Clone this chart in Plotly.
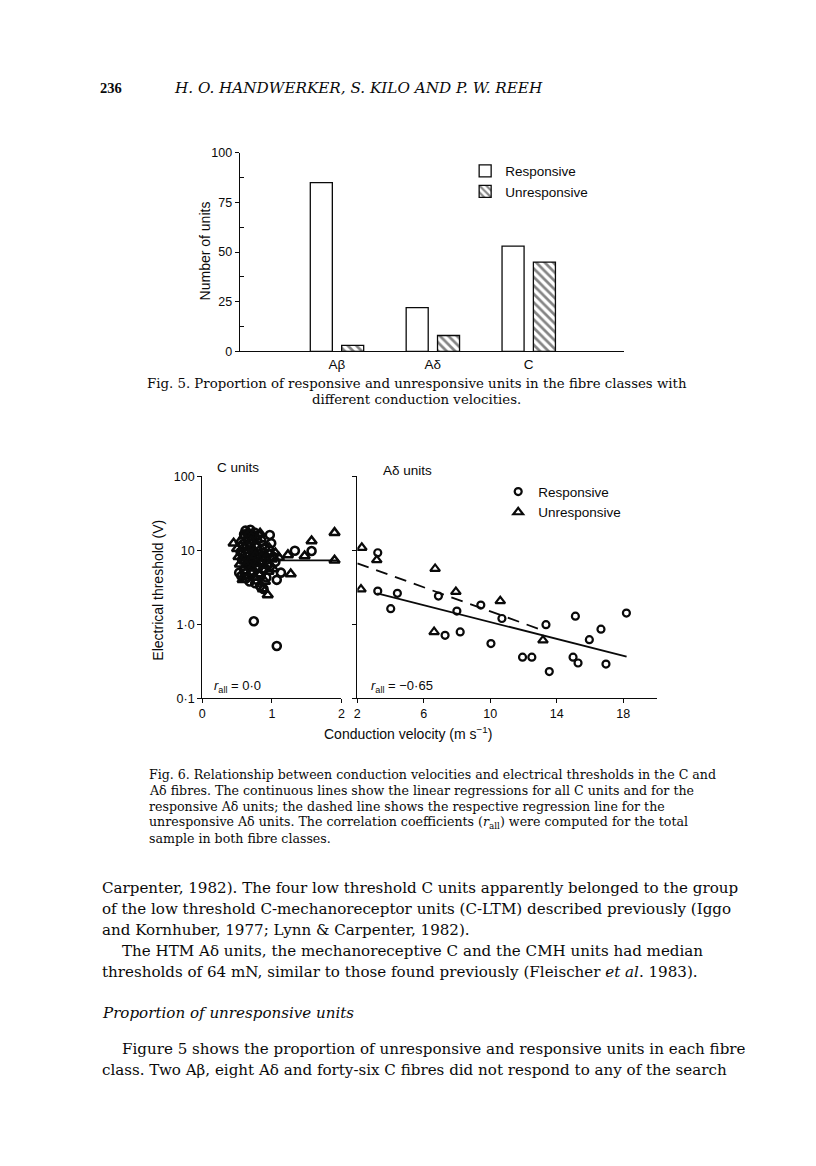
import plotly.graph_objects as go

# ---- Fig. 5 data ----
fibre_classes = ["Aβ", "Aδ", "C"]
responsive_units = [85, 22, 53]
unresponsive_units = [3, 8, 45]

# ---- Fig. 6 data: C units (conduction velocity m/s, threshold V) ----
c_resp_cv = [0.62, 0.69, 0.75, 0.80, 0.66, 0.72, 0.85, 0.58, 0.64, 0.70, 0.78, 0.90, 0.55, 0.62,
             0.68, 0.74, 0.82, 0.95, 1.02, 0.57, 0.65, 0.71, 0.77, 0.86, 0.93, 1.05, 0.53, 0.60,
             0.67, 0.73, 0.80, 0.88, 0.97, 0.56, 0.63, 0.70, 0.78, 0.84, 0.92, 0.76, 0.68, 0.83,
             0.60, 0.87, 0.99,
             1.57, 1.33, 0.97, 1.07, 1.13, 0.88, 0.74, 1.07]
c_resp_thr = [18.5, 19.0, 17.5, 16.0, 15.0, 14.0, 13.5, 12.0, 11.5, 12.5, 11.0, 10.5, 9.5, 9.0,
              8.5, 9.5, 8.8, 9.0, 8.2, 7.5, 7.0, 6.8, 7.8, 7.2, 6.5, 7.0, 5.0, 5.5,
              6.0, 5.2, 5.8, 5.5, 6.0, 4.5, 4.2, 4.8, 4.0, 4.6, 4.3, 3.6, 3.8, 3.3,
              16.5, 11.8, 12.5,
              9.8, 9.9, 16.2, 4.0, 5.0, 3.0, 1.1, 0.51]
c_unresp_cv = [0.50, 0.55, 0.60, 0.67, 0.73, 0.79, 0.83, 0.59, 0.66, 0.72, 0.81, 0.88, 0.96, 1.05,
               0.52, 0.61, 0.69, 0.76, 0.85, 0.91, 1.00, 1.10, 0.54, 0.63, 0.71, 0.79, 0.89, 0.58,
               0.66, 0.74, 0.81, 0.90, 0.87, 0.62, 0.95, 1.02, 0.70,
               0.45, 1.90, 1.90, 1.57, 1.47, 1.23, 1.27, 0.94]
c_unresp_thr = [10.5, 13.5, 15.5, 17.0, 16.5, 14.0, 17.0, 11.0, 10.0, 10.8, 9.8, 9.3, 10.8, 9.2,
                8.2, 8.0, 7.5, 8.5, 8.0, 7.8, 7.6, 8.0, 6.5, 6.3, 5.8, 6.6, 6.2, 4.0,
                4.5, 4.3, 4.8, 3.8, 3.0, 5.0, 5.2, 5.6, 13.5,
                12.5, 17.4, 7.35, 13.4, 8.4, 8.7, 4.8, 2.5]
c_fit_cv = [0.52, 1.96]
c_fit_thr = [7.35, 7.35]

# ---- Fig. 6 data: A-delta units ----
ad_resp_cv = [3.23, 3.23, 4.41, 4.01, 6.88, 7.99, 9.43, 10.70, 7.28, 8.19, 10.04, 11.94, 12.50,
              13.35, 13.55, 15.12, 14.98, 15.28, 15.96, 16.66, 16.96, 18.19]
ad_resp_thr = [9.3, 2.82, 2.63, 1.63, 2.41, 1.51, 1.82, 1.20, 0.71, 0.79, 0.55, 0.36, 0.36,
               0.99, 0.23, 1.29, 0.36, 0.30, 0.62, 0.86, 0.29, 1.42]
ad_unresp_cv = [2.27, 3.17, 2.22, 6.68, 7.93, 10.6, 6.62, 13.17]
ad_unresp_thr = [10.9, 7.4, 2.98, 5.66, 2.76, 2.07, 0.79, 0.61]
ad_resp_fit_cv = [3.2, 18.2]
ad_resp_fit_thr = [2.63, 0.365]
ad_unresp_fit_cv = [2.0, 13.0]
ad_unresp_fit_thr = [6.7, 0.855]

thr_tickvals = [0.1, 1, 10, 100]
thr_ticktext = ["0·1", "1·0", "10", "100"]
units_tickvals = [0, 25, 50, 75, 100]
c_cv_ticks = [0, 1, 2]
ad_cv_ticks = [2, 6, 10, 14, 18]

# page pixel -> paper coords; the page is framed slightly scaled/offset in the final shot,
# so compensate with the measured factors
W, H, OFF = 800, 1150, 8
SX, OX = 0.99, 3.5
SY, OY = 0.987, 6.7
def px(x): return ((x - OX) / SX - OFF) / W
def py(y): return 1 - ((y - OY) / SY - OFF) / H

INK = "#0a0a0a"
SANS = "Liberation Sans, Arial, sans-serif"
SERIF = "DejaVu Serif, serif"

fig = go.Figure()

# Fig. 5 bars
fig.add_trace(go.Bar(x=fibre_classes, y=responsive_units, name="Responsive",
                     marker=dict(color="white", line=dict(color=INK, width=1.3)),
                     xaxis="x", yaxis="y", legend="legend"))
fig.add_trace(go.Bar(x=fibre_classes, y=unresponsive_units, name="Unresponsive",
                     marker=dict(color="white", line=dict(color=INK, width=1.3),
                                 pattern=dict(shape="\\", fgcolor=INK, bgcolor="white",
                                              size=6, solidity=0.45)),
                     xaxis="x", yaxis="y", legend="legend"))

# Fig. 6 left panel: C units
fig.add_trace(go.Scatter(x=c_fit_cv, y=c_fit_thr, mode="lines", line=dict(color=INK, width=1.8),
                         showlegend=False, xaxis="x2", yaxis="y2"))
fig.add_trace(go.Scatter(x=c_resp_cv, y=c_resp_thr, mode="markers", showlegend=False,
                         marker=dict(symbol="circle-open", size=8, color=INK, line=dict(width=2.6)),
                         xaxis="x2", yaxis="y2"))
fig.add_trace(go.Scatter(x=c_unresp_cv, y=c_unresp_thr, mode="markers", showlegend=False,
                         marker=dict(symbol="triangle-up-open", size=9, color=INK, line=dict(width=2.5)),
                         xaxis="x2", yaxis="y2"))

# Fig. 6 right panel: A-delta units
fig.add_trace(go.Scatter(x=ad_resp_fit_cv, y=ad_resp_fit_thr, mode="lines",
                         line=dict(color=INK, width=1.8), showlegend=False, xaxis="x3", yaxis="y3"))
fig.add_trace(go.Scatter(x=ad_unresp_fit_cv, y=ad_unresp_fit_thr, mode="lines",
                         line=dict(color=INK, width=1.8, dash="12px,8px"), showlegend=False,
                         xaxis="x3", yaxis="y3"))
fig.add_trace(go.Scatter(x=ad_resp_cv, y=ad_resp_thr, mode="markers", name="Responsive",
                         marker=dict(symbol="circle-open", size=7, color=INK, line=dict(width=2.2)),
                         xaxis="x3", yaxis="y3", legend="legend2"))
fig.add_trace(go.Scatter(x=ad_unresp_cv, y=ad_unresp_thr, mode="markers", name="Unresponsive",
                         marker=dict(symbol="triangle-up-open", size=8.5, color=INK, line=dict(width=2.2)),
                         xaxis="x3", yaxis="y3", legend="legend2"))

tickfont = dict(family=SANS, size=12.5, color=INK)
base = dict(showgrid=False, zeroline=False, showline=True, linecolor=INK, linewidth=1.4,
            tickcolor=INK, tickwidth=1.4, tickfont=tickfont)
overlay = dict(showgrid=False, zeroline=False, showline=False, showticklabels=False,
               ticks="inside", tickcolor=INK, tickwidth=1.4, ticklen=4, tickmode="array")

ad_xmax = 2 + (656.7 - 357.3) / 16.6

fig.update_layout(
    width=W, height=H, margin=dict(l=0, r=0, t=0, b=0),
    paper_bgcolor="white", plot_bgcolor="white",
    barmode="group", bargap=0.346, bargroupgap=0.297,
    xaxis=dict(base, domain=[px(240), px(623.3)], anchor="y", type="category",
               range=[-1.013, 2.99], ticks="", tickfont=dict(family=SANS, size=13.5, color=INK)),
    yaxis=dict(base, domain=[py(350.7), py(152.3)], anchor="x", range=[0, 100],
               tickmode="array", tickvals=units_tickvals, ticks="outside", ticklen=4,
               minor=dict(ticks="inside", tickmode="array", tickvals=[12.5, 37.5, 62.5, 87.5],
                          ticklen=4, tickcolor=INK, tickwidth=1.2)),
    yaxis4=dict(overlay, overlaying="y", anchor="x", range=[0, 100], tickvals=units_tickvals, ticklen=5),
    xaxis2=dict(base, domain=[px(202.5), px(341.5)], anchor="y2", range=[0, 2],
                tickmode="array", tickvals=c_cv_ticks, ticks="outside", ticklen=4),
    yaxis2=dict(base, domain=[py(697.3), py(475.7)], anchor="x2", type="log", range=[-1, 2],
                tickmode="array", tickvals=thr_tickvals, ticktext=thr_ticktext,
                ticks="outside", ticklen=4),
    xaxis4=dict(overlay, overlaying="x2", anchor="y2", range=[0, 2], tickvals=c_cv_ticks, ticklen=5),
    yaxis5=dict(overlay, overlaying="y2", anchor="x2", type="log", range=[-1, 2],
                tickvals=thr_tickvals),
    xaxis3=dict(base, domain=[px(357.3), px(656.7)], anchor="y3", range=[2, ad_xmax],
                tickmode="array", tickvals=ad_cv_ticks, ticks="outside", ticklen=4),
    yaxis3=dict(base, domain=[py(697.3), py(475.7)], anchor="x3", type="log", range=[-1, 2],
                tickmode="array", tickvals=thr_tickvals, showticklabels=False,
                ticks="outside", ticklen=4),
    xaxis5=dict(overlay, overlaying="x3", anchor="y3", range=[2, ad_xmax], tickvals=ad_cv_ticks, ticklen=5),
    legend=dict(x=px(465), y=py(155), xanchor="left", yanchor="top", bgcolor="rgba(0,0,0,0)",
                font=dict(family=SANS, size=13.5, color=INK), tracegroupgap=0, itemwidth=30),
    legend2=dict(x=px(498), y=py(475.5), xanchor="left", yanchor="top", bgcolor="rgba(0,0,0,0)",
                 font=dict(family=SANS, size=13.5, color=INK), tracegroupgap=0, itemwidth=30),
)

ann = []
def text(x, y, s, size, family=SERIF, xanchor="left", angle=0):
    ann.append(dict(x=px(x), y=py(y), xref="paper", yref="paper", text=s, showarrow=False,
                    xanchor=xanchor, yanchor="middle", textangle=angle,
                    font=dict(family=family, size=size, color=INK)))

# page header
text(98, 88, "<b>236</b>", 14.5, "Liberation Serif, serif")
text(172, 88, "<i>H. O. HANDWERKER, S. KILO AND P. W. REEH</i>", 15.2)

# chart texts
text(205, 250, "Number of units", 14, SANS, "center", -90)
text(158, 589, "Electrical threshold (V)", 14, SANS, "center", -90)
text(408, 732, "Conduction velocity (m s<sup>−1</sup>)", 14, SANS, "center")
text(215, 467, "C units", 13.5, SANS)
text(381, 470, "Aδ units", 13.5, SANS)
text(212, 686, "<i>r</i><sub>all</sub> = 0·0", 13, SANS)
text(369, 686, "<i>r</i><sub>all</sub> = −0·65", 13, SANS)

# captions
text(416.5, 383, "Fig. 5. Proportion of responsive and unresponsive units in the fibre classes with", 13.3, SERIF, "center")
text(416.5, 399, "different conduction velocities.", 13.3, SERIF, "center")
fig6_lines = [
    "Fig. 6. Relationship between conduction velocities and electrical thresholds in the C and",
    "Aδ fibres. The continuous lines show the linear regressions for all C units and for the",
    "responsive Aδ units; the dashed line shows the respective regression line for the",
    "unresponsive Aδ units. The correlation coefficients (<i>r</i><sub>all</sub>) were computed for the total",
    "sample in both fibre classes.",
]
for i, line in enumerate(fig6_lines):
    text(147, 773 + 16 * i, line, 12.6)

# body text
body = [
    (100, 887, "Carpenter, 1982). The four low threshold C units apparently belonged to the group"),
    (100, 908, "of the low threshold C-mechanoreceptor units (C-LTM) described previously (Iggo"),
    (100, 929, "and Kornhuber, 1977; Lynn &amp; Carpenter, 1982)."),
    (120, 950, "The HTM Aδ units, the mechanoreceptive C and the CMH units had median"),
    (100, 971, "thresholds of 64 mN, similar to those found previously (Fleischer <i>et al</i>. 1983)."),
    (100, 1012, "<i>Proportion of unresponsive units</i>"),
    (120, 1048, "Figure 5 shows the proportion of unresponsive and responsive units in each fibre"),
    (100, 1069, "class. Two Aβ, eight Aδ and forty-six C fibres did not respond to any of the search"),
]
for x, y, s in body:
    text(x, y, s, 15.1)

fig.update_layout(annotations=ann)
fig.write_html("out.html")
